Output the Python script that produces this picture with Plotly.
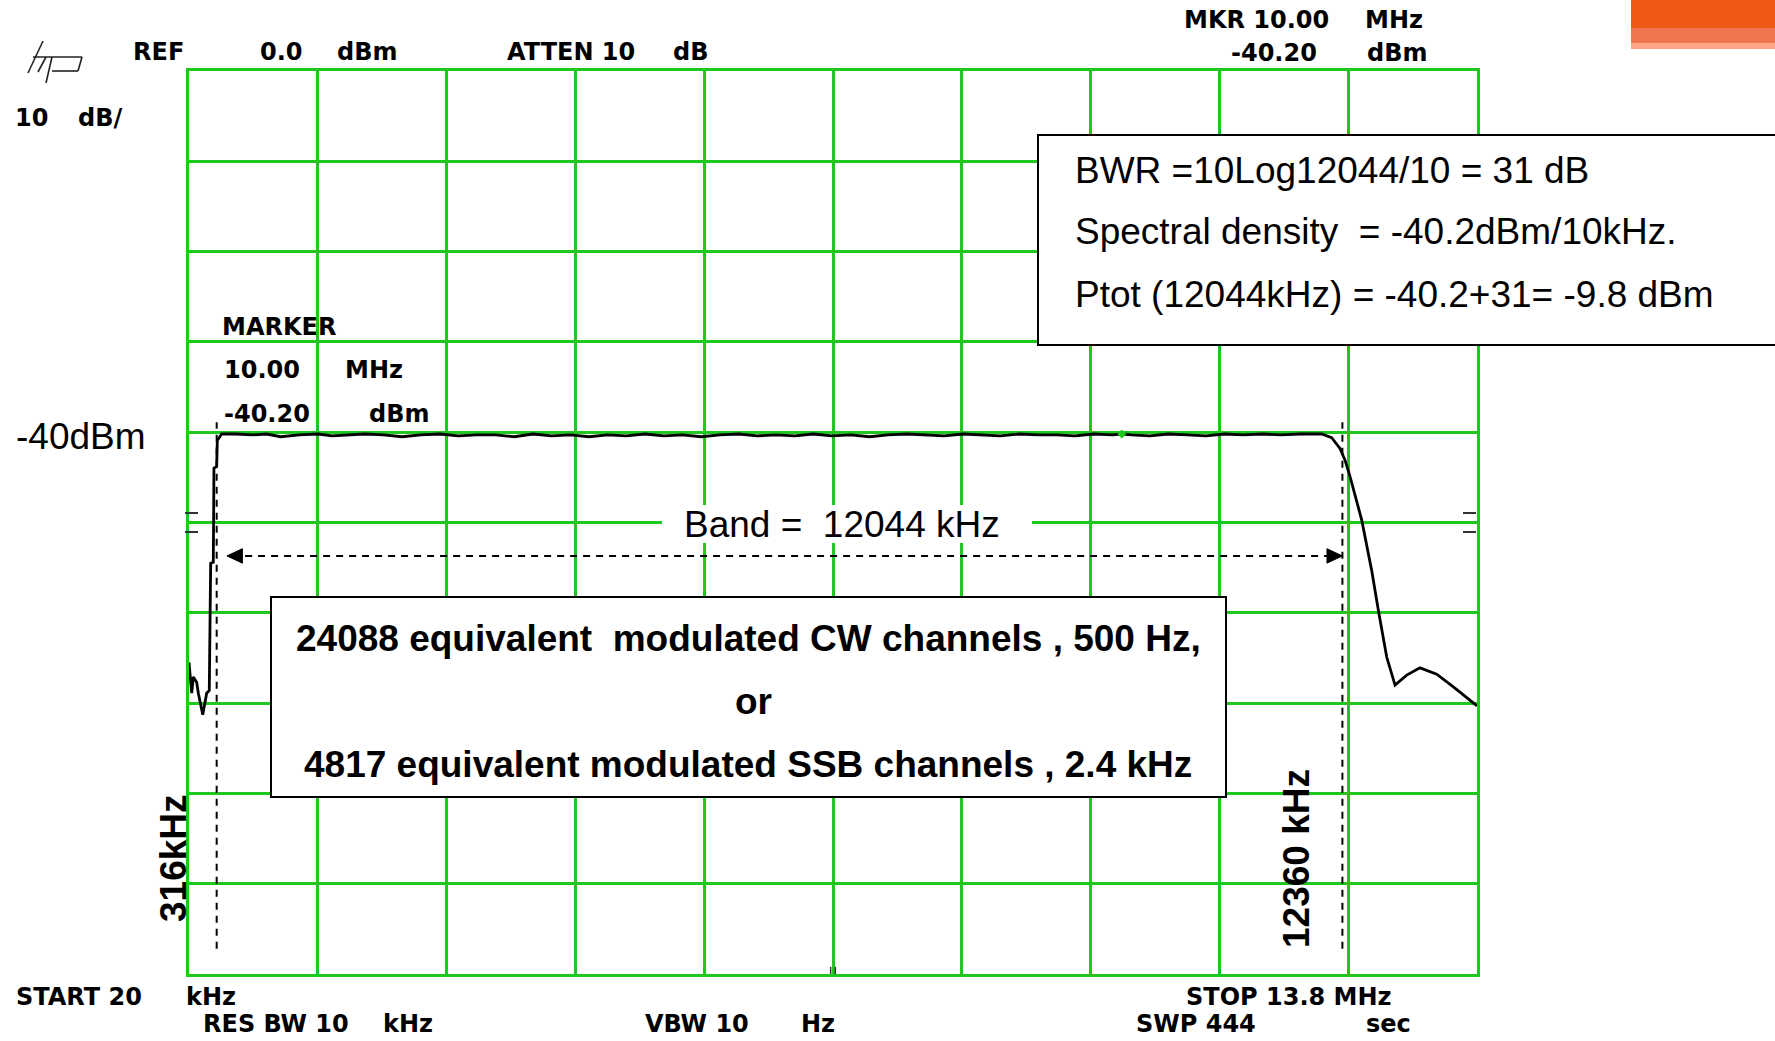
import plotly.graph_objects as go

# ---- analyser settings -------------------------------------------------
START_KHZ = 20
STOP_KHZ = 13800
REF_DBM = 0
DB_PER_DIV = 10
N_DIV = 10

# ---- swept spectrum (frequency in kHz, level in dBm) -------------------
freq_khz = [
    20, 49, 66, 102, 120, 167, 209, 237, 252, 280, 287, 316, 323, 370,
    520, 700, 850, 1000, 1200, 1400, 1550, 1700, 1900, 2100, 2300, 2500,
    2700, 2900, 3100, 3300, 3500, 3700, 3900, 4100, 4300, 4500, 4700, 4900,
    5100, 5300, 5500, 5700, 5900, 6100, 6300, 6500, 6700, 6900, 7100, 7300,
    7500, 7700, 7900, 8100, 8300, 8500, 8700, 8900, 9100, 9300, 9500, 9700,
    9900, 10000, 10100, 10300, 10500, 10700, 10900, 11100, 11300, 11500,
    11700, 11906, 12138, 12245, 12334, 12388, 12441, 12566, 12673, 12744,
    12834, 12923, 13048, 13190, 13369, 13547, 13800,
]
level_dbm = [
    -65.5, -68.9, -67.1, -67.7, -68.9, -71.3, -68.9, -68.6, -54.5, -54.4, -44.0, -43.8, -40.9, -40.2,
    -40.2, -40.3, -40.2, -40.5, -40.3, -40.2, -40.4, -40.3, -40.2, -40.3, -40.5, -40.3,
    -40.2, -40.4, -40.3, -40.3, -40.5, -40.2, -40.4, -40.3, -40.5, -40.3, -40.4, -40.2,
    -40.4, -40.3, -40.5, -40.3, -40.2, -40.4, -40.3, -40.4, -40.2, -40.4, -40.3, -40.5,
    -40.3, -40.2, -40.3, -40.4, -40.2, -40.3, -40.4, -40.2, -40.3, -40.3, -40.4, -40.2,
    -40.3, -40.2, -40.3, -40.4, -40.2, -40.3, -40.4, -40.2, -40.3, -40.2,
    -40.3, -40.2, -40.2, -40.6, -41.8, -43.1, -44.9, -49.7, -55.3, -59.7,
    -64.9, -68.0, -66.9, -66.1, -66.8, -68.2, -70.3,
]

# ---- marker and band edges ---------------------------------------------
marker_khz = 10000
marker_dbm = -40.2
band_low_khz = 316
band_high_khz = 12360
band_width_khz = 12044
reference_line_dbm = -40

# ---- figure geometry (pixels) ------------------------------------------
FIG_W, FIG_H = 1775, 1041
PL, PR, PT, PB = 189, 1477, 71, 974

GREEN = "#1fc81f"
HP_FONT = "DejaVu Sans"
TXT_FONT = "Liberation Sans"


def px_x(p):
    return (p - PL) / (PR - PL)


def px_y(p):
    return (PB - p) / (PB - PT)


fig = go.Figure()

fig.add_trace(go.Scatter(
    x=freq_khz, y=level_dbm, mode="lines",
    line=dict(color="black", width=2.8),
    hoverinfo="skip",
))
fig.add_trace(go.Scatter(
    x=[marker_khz], y=[marker_dbm], mode="markers",
    marker=dict(symbol="diamond", size=7, color=GREEN),
    hoverinfo="skip",
))

shapes = []
annotations = []


def hp_text(text, x, y, size=24, anchor="left"):
    annotations.append(dict(
        text=text, xref="paper", yref="paper", x=px_x(x), y=px_y(y),
        xanchor=anchor, yanchor="middle", showarrow=False,
        font=dict(family=HP_FONT, size=size, color="black", weight="bold"),
    ))


def label(text, x, y, size=37, bold=False, anchor="left", angle=0):
    annotations.append(dict(
        text=text, xref="paper", yref="paper", x=px_x(x), y=px_y(y),
        xanchor=anchor, yanchor="middle", showarrow=False, textangle=angle,
        font=dict(family=TXT_FONT, size=size, color="black",
                  weight="bold" if bold else "normal"),
    ))


# analyser status read-outs
hp_text("REF", 131, 52)
hp_text("0.0", 258, 52)
hp_text("dBm", 335, 52)
hp_text("ATTEN 10", 505, 52)
hp_text("dB", 671, 52)
hp_text("MKR 10.00", 1182, 20)
hp_text("MHz", 1363, 20)
hp_text("-40.20", 1229, 53)
hp_text("dBm", 1365, 53)
hp_text("10", 13, 118)
hp_text("dB/", 76, 118)
hp_text("MARKER", 220, 327)
hp_text("10.00", 222, 370)
hp_text("MHz", 343, 370)
hp_text("-40.20", 222, 414)
hp_text("dBm", 367, 414)
hp_text("START 20", 14, 997)
hp_text("kHz", 184, 997)
hp_text("STOP 13.8 MHz", 1184, 997)
hp_text("RES BW 10", 201, 1024)
hp_text("kHz", 381, 1024)
hp_text("VBW 10", 643, 1024)
hp_text("Hz", 799, 1024)
hp_text("SWP 444", 1134, 1024)
hp_text("sec", 1364, 1024)

# hp logo
logo = [((43, 41), (28, 73)), ((33, 57), (82, 57)), ((46, 57), (38, 72)),
        ((82, 57), (78, 71)), ((78, 71), (52, 71)), ((52, 57), (46, 83))]
for (xa, ya), (xb, yb) in logo:
    shapes.append(dict(type="line", xref="paper", yref="paper",
                       x0=px_x(xa), y0=px_y(ya), x1=px_x(xb), y1=px_y(yb),
                       line=dict(color="#222222", width=1.6), layer="above"))

# corner banner
for y0, y1, col in [(0, 28, "#ee5a16"), (28, 43, "#f07650"), (43, 49, "#ffa585")]:
    shapes.append(dict(type="rect", xref="paper", yref="paper",
                       x0=px_x(1631), x1=px_x(1775), y0=px_y(y1), y1=px_y(y0),
                       fillcolor=col, line=dict(width=0), layer="above"))

# display-line ticks at both graticule edges
for xa, xb in [(185, 198), (1463, 1476)]:
    for yy in (513, 532):
        shapes.append(dict(type="line", xref="paper", yref="paper",
                           x0=px_x(xa), x1=px_x(xb), y0=px_y(yy), y1=px_y(yy),
                           line=dict(color="#333333", width=2), layer="above"))

# centre-frequency tick at the bottom edge
centre_khz = (START_KHZ + STOP_KHZ) / 2
for dx in (-25, 25):
    shapes.append(dict(type="line", xref="x", yref="y",
                       x0=centre_khz + dx, x1=centre_khz + dx,
                       y0=-100, y1=-99.2,
                       line=dict(color="#333333", width=1.5), layer="above"))

# band edge markers
DASH = "7px,6px"
for f in (band_low_khz, band_high_khz):
    shapes.append(dict(type="line", xref="x", yref="y",
                       x0=f, x1=f, y0=-97.2, y1=-38.9,
                       line=dict(color="black", width=2, dash=DASH),
                       layer="above"))

# band-width arrow
arrow_dbm = -53.7
head_len = 165
head_half = 0.8
shapes.append(dict(type="line", xref="x", yref="y",
                   x0=band_low_khz + head_len, x1=band_high_khz - head_len,
                   y0=arrow_dbm, y1=arrow_dbm,
                   line=dict(color="black", width=2, dash=DASH), layer="above"))
shapes.append(dict(
    type="path", xref="x", yref="y", layer="above",
    path=(f"M {band_low_khz + 110},{arrow_dbm} "
          f"L {band_low_khz + 110 + head_len},{arrow_dbm + head_half} "
          f"L {band_low_khz + 110 + head_len},{arrow_dbm - head_half} Z"),
    fillcolor="black", line=dict(color="black", width=1)))
shapes.append(dict(
    type="path", xref="x", yref="y", layer="above",
    path=(f"M {band_high_khz},{arrow_dbm} "
          f"L {band_high_khz - head_len},{arrow_dbm + head_half} "
          f"L {band_high_khz - head_len},{arrow_dbm - head_half} Z"),
    fillcolor="black", line=dict(color="black", width=1)))

# white patch behind the band label
shapes.append(dict(type="rect", xref="paper", yref="paper",
                   x0=px_x(662), x1=px_x(1032), y0=px_y(543), y1=px_y(505),
                   fillcolor="white", line=dict(width=0), layer="above"))

# note boxes
shapes.append(dict(type="rect", xref="paper", yref="paper",
                   x0=px_x(1038), x1=px_x(1800), y0=px_y(345), y1=px_y(135),
                   fillcolor="white", line=dict(color="black", width=2),
                   layer="above"))
shapes.append(dict(type="rect", xref="paper", yref="paper",
                   x0=px_x(271), x1=px_x(1226), y0=px_y(797), y1=px_y(597),
                   fillcolor="white", line=dict(color="black", width=2),
                   layer="above"))

label("BWR =10Log12044/10 = 31 dB", 1073, 170)
label("Spectral density  = -40.2dBm/10kHz.", 1073, 232)
label("Ptot (12044kHz) = -40.2+31= -9.8 dBm", 1073, 294)

label("24088 equivalent  modulated CW channels , 500 Hz,", 748, 638, bold=True, anchor="center")
label("or", 753, 701, bold=True, anchor="center")
label("4817 equivalent modulated SSB channels , 2.4 kHz", 748, 764, bold=True, anchor="center")

label(f"Band =  {band_width_khz} kHz", 842, 524, anchor="center")
label(f"{reference_line_dbm}dBm", 14, 436)
label(f"{band_low_khz}kHz", 173, 858, bold=True, anchor="center", angle=-90)
label(f"{band_high_khz} kHz", 1296, 859, bold=True, anchor="center", angle=-90)

axis_common = dict(
    showgrid=True, gridcolor=GREEN, gridwidth=2.5,
    showline=True, linecolor=GREEN, linewidth=2.5, mirror=True,
    zeroline=False, showticklabels=False, ticks="", fixedrange=True,
)
fig.update_xaxes(range=[START_KHZ, STOP_KHZ], tick0=START_KHZ,
                 dtick=(STOP_KHZ - START_KHZ) / N_DIV, **axis_common)
fig.update_yaxes(range=[REF_DBM - DB_PER_DIV * N_DIV, REF_DBM], tick0=REF_DBM,
                 dtick=DB_PER_DIV, **axis_common)

fig.update_layout(
    width=FIG_W, height=FIG_H, autosize=False,
    margin=dict(l=PL, r=FIG_W - PR, t=PT, b=FIG_H - PB, pad=0),
    plot_bgcolor="white", paper_bgcolor="white",
    showlegend=False, shapes=shapes, annotations=annotations,
)

fig.write_html("out.html", config={"displayModeBar": False})
